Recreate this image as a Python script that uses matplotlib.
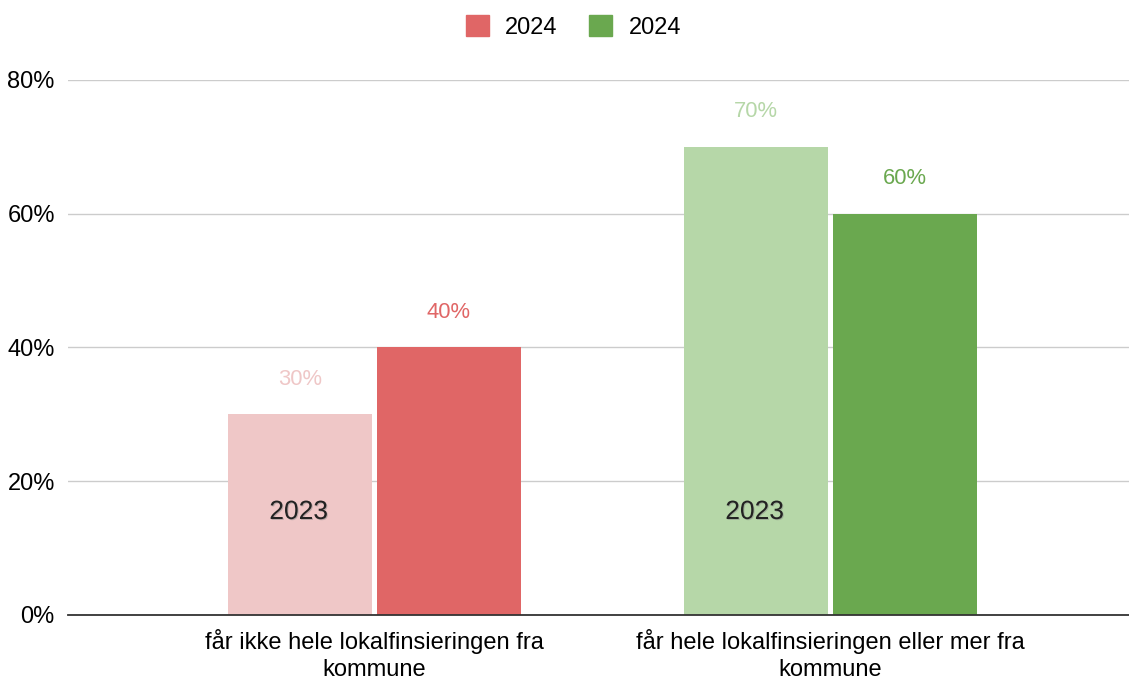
import matplotlib.pyplot as plt
import matplotlib.patheffects as pe
from matplotlib.ticker import FuncFormatter
import numpy as np

# donnees du graphique
categories = ["får ikke hele lokalfinsieringen fra\nkommune",
              "får hele lokalfinsieringen eller mer fra\nkommune"]
v2023 = [30, 70]
v2024 = [40, 60]
couleurs_2023 = ["#efc7c7", "#b6d7a8"]
couleurs_2024 = ["#e06666", "#6aa84f"]
legende = ["2024", "2024"]
annee_label = "2023"

plt.rcParams['font.family'] = ['Liberation Sans', 'DejaVu Sans']

fig = plt.figure(figsize=(11.29, 6.79), dpi=100)
ax = fig.add_axes([0.0602, 0.0943, 0.9398, 0.7879])

x = np.arange(len(categories))
w = 0.316
dx = 0.163

b1 = ax.bar(x - dx, v2023, w, color=couleurs_2023, zorder=3)
b2 = ax.bar(x + dx, v2024, w, color=couleurs_2024, zorder=3)

# etiquettes de valeur au-dessus des barres
for i in range(len(x)):
    ax.annotate(f"{v2023[i]}%", (x[i] - dx, v2023[i]), xytext=(0, 35),
                textcoords="offset pixels", ha="center", va="center",
                color=couleurs_2023[i], fontsize=15.8)
    ax.annotate(f"{v2024[i]}%", (x[i] + dx, v2024[i]), xytext=(0, 35),
                textcoords="offset pixels", ha="center", va="center",
                color=couleurs_2024[i], fontsize=15.8)
    ax.text(x[i] - dx - 0.003, 15.4, annee_label, ha="center", va="center",
            fontsize=19, color="#222222", zorder=5,
            path_effects=[pe.withSimplePatchShadow(offset=(0.7, -0.7), shadow_rgbFace="#888888", alpha=0.5)])

ax.set_xlim(-0.672, 1.655)
ax.set_ylim(0, 80)
ax.set_yticks([0, 20, 40, 60, 80])
ax.yaxis.set_major_formatter(FuncFormatter(lambda v, p: f"{int(v)}%"))
ax.tick_params(axis='y', length=0, labelsize=17, pad=9.5)
ax.tick_params(axis='x', length=0, labelsize=17, pad=10)
ax.set_xticks(x)
ax.set_xticklabels(categories, linespacing=1.3)
ax.grid(axis='y', color="#cccccc", lw=1, zorder=0)
for s in ["top", "right", "left"]:
    ax.spines[s].set_visible(False)
ax.spines["bottom"].set_color("#333333")
ax.spines["bottom"].set_linewidth(1.3)
ax.spines["bottom"].set_zorder(4)

# legende
handles = [plt.Rectangle((0, 0), 1, 1, color=couleurs_2024[0]),
           plt.Rectangle((0, 0), 1, 1, color=couleurs_2024[1])]
fig.legend(handles, legende, loc="center", bbox_to_anchor=(0.508, 0.96),
           ncol=2, frameon=False, fontsize=17, handlelength=0.97,
           handleheight=0.97, handletextpad=0.7, columnspacing=1.35)

plt.savefig("out.png", dpi=100)
